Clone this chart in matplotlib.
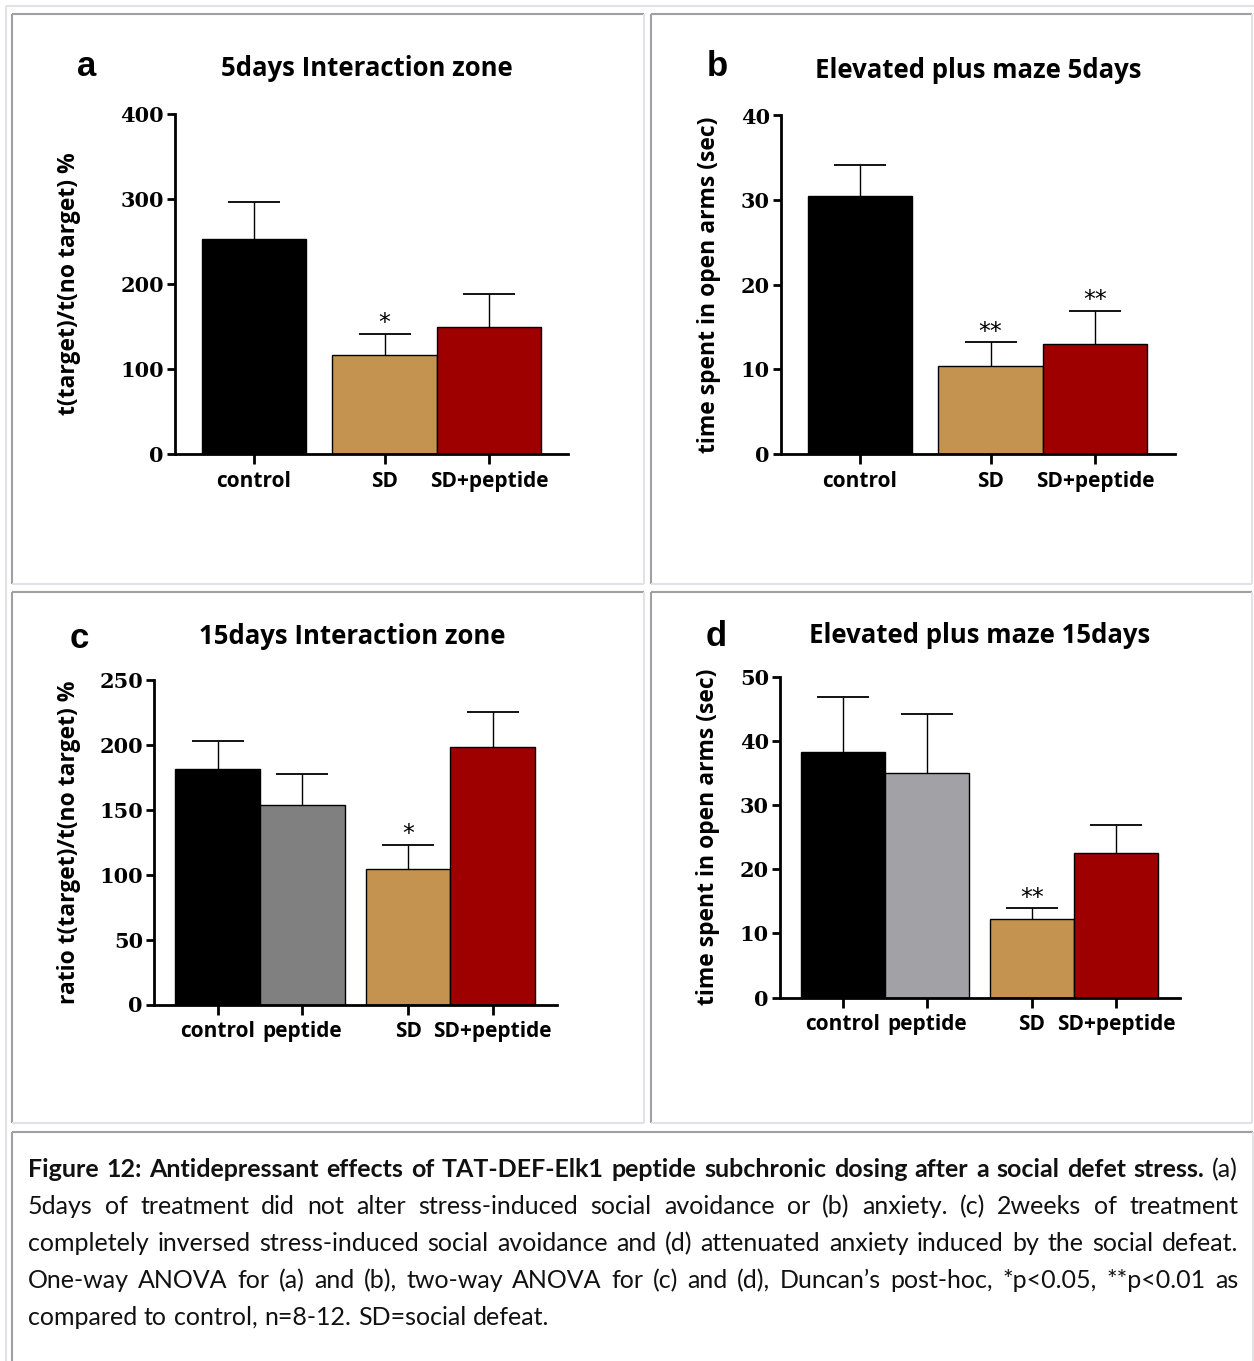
import matplotlib
matplotlib.use('Agg')
import matplotlib.pyplot as plt
from matplotlib.lines import Line2D

W, H = 1254, 1361

# values (mean, upper SEM)
a_groups = ['control', 'SD', 'SD+peptide']
a_mean = [253, 116, 149.5]
a_sem = [43, 25, 39]
a_sig = ['', '*', '']

b_groups = ['control', 'SD', 'SD+peptide']
b_mean = [30.5, 10.4, 13.0]
b_sem = [3.7, 2.8, 3.9]
b_sig = ['', '**', '**']

c_groups = ['control', 'peptide', 'SD', 'SD+peptide']
c_mean = [181, 153.5, 104, 198]
c_sem = [21.4, 23.5, 18.7, 26.8]
c_sig = ['', '', '*', '']

d_groups = ['control', 'peptide', 'SD', 'SD+peptide']
d_mean = [38.3, 35.0, 12.2, 22.6]
d_sem = [8.6, 9.2, 1.7, 4.3]
d_sig = ['', '', '**', '']

BLACK = '#000000'
TAN = '#C4934F'
RED = '#9E0000'
GREY_C = '#808080'
GREY_D = '#A2A1A6'

DARK_LINE = '#A09FA4'
LIGHT_LINE = '#E2E1E5'

SANS = 'Open Sans'
CAP_SANS = 'Lato'
SERIF = 'DejaVu Serif'

fig = plt.figure(figsize=(W / 100, H / 100), dpi=100)


def px_rect(l, t, r, b):
    return [l / W, 1 - b / H, (r - l) / W, (b - t) / H]


def fig_line(x0, y0, x1, y1, color):
    fig.add_artist(Line2D([x0 / W, x1 / W], [1 - y0 / H, 1 - y1 / H],
                          transform=fig.transFigure, color=color, lw=1.5,
                          solid_capstyle='butt'))


def cell(l, t, r, b):
    # word-table style cell: dark top/left, light bottom/right
    fig_line(l, t, r, t, DARK_LINE)
    fig_line(l, t, l, b, DARK_LINE)
    fig_line(r, t, r, b, LIGHT_LINE)
    fig_line(l, b, r, b, LIGHT_LINE)


def positions_for(n_first, n_second, gap=0.25):
    pos = list(range(n_first))
    pos += [n_first + gap + i for i in range(n_second)]
    return pos


def bar_panel(rect, groups, means, sems, sigs, colors, split, xlim, ymax, ystep,
              ylabel, title, letter, title_xy, letter_xy, ylabel_x):
    ax = fig.add_axes(px_rect(*rect))
    pos = positions_for(split, len(groups) - split)
    ax.bar(pos, means, width=1.0, color=colors, edgecolor='black', linewidth=1.0, zorder=2)
    # symmetric bars drawn behind the columns, so only the upper half shows
    ax.errorbar(pos, means, yerr=sems, fmt='none', ecolor='black',
                elinewidth=1.0, capsize=19, capthick=1.3, zorder=1)
    for x, m, s, sig in zip(pos, means, sems, sigs):
        if sig:
            ax.annotate(sig, (x, m + s), xytext=(0, -1), textcoords='offset points',
                        ha='center', va='bottom', fontsize=17, family='DejaVu Sans')

    ax.set_xlim(*xlim)
    ax.set_ylim(0, ymax)
    ax.set_yticks(range(0, ymax + 1, ystep))
    ax.set_xticks(pos, groups)
    for sp in ['top', 'right']:
        ax.spines[sp].set_visible(False)
    for sp in ['left', 'bottom']:
        ax.spines[sp].set_linewidth(2.0)
    ax.tick_params(axis='y', direction='out', length=6, width=2.0, pad=2)
    ax.tick_params(axis='x', direction='out', length=7, width=2.0, pad=5)
    for lab in ax.get_yticklabels():
        lab.set_family(SERIF)
        lab.set_weight('bold')
        lab.set_fontsize(15)
    for lab in ax.get_xticklabels():
        lab.set_family(SANS)
        lab.set_weight('bold')
        lab.set_fontsize(15)

    ax.set_ylabel(ylabel, family=SANS, weight='bold', fontsize=16.5)
    l, t, r, b = rect
    ax.yaxis.label.set_va('center')
    ax.yaxis.set_label_coords((ylabel_x - l) / (r - l), 0.5)

    fig.text(title_xy[0] / W, 1 - title_xy[1] / H, title, ha='center', va='center',
             family=SANS, weight='bold', fontsize=18.5)
    fig.text(letter_xy[0] / W, 1 - letter_xy[1] / H, letter, ha='center', va='center',
             family='Liberation Sans', weight='bold', fontsize=25)
    return ax


# table cells
fig_line(6, 6, 1254, 6, LIGHT_LINE)
fig_line(6, 6, 6, 1361, LIGHT_LINE)
cell(12, 14, 644, 584)
cell(651, 14, 1252, 584)
cell(12, 592, 644, 1123)
cell(651, 592, 1252, 1123)
cell(12, 1132, 1253, 1366)

bar_panel((175, 113.6, 568, 454.1), a_groups, a_mean, a_sem, a_sig,
          [BLACK, TAN, RED], 1, (-0.756, 3.005), 400, 100,
          't(target)/t(no target) %', '5days Interaction zone', 'a',
          (367, 69), (87, 66), 69)

bar_panel((781, 115.5, 1174.5, 454.1), b_groups, b_mean, b_sem, b_sig,
          [BLACK, TAN, RED], 1, (-0.756, 3.01), 40, 10,
          'time spent in open arms (sec)', 'Elevated plus maze 5days', 'b',
          (978, 70), (717, 66), 709)

bar_panel((154, 679.5, 557, 1004.5), c_groups, c_mean, c_sem, c_sig,
          [BLACK, GREY_C, TAN, RED], 2, (-0.754, 4.01), 250, 50,
          'ratio t(target)/t(no target) %', '15days Interaction zone', 'c',
          (352, 637), (79, 638), 69)

bar_panel((780, 677, 1180, 997.6), d_groups, d_mean, d_sem, d_sig,
          [BLACK, GREY_D, TAN, RED], 2, (-0.746, 4.01), 50, 10,
          'time spent in open arms (sec)', 'Elevated plus maze 15days', 'd',
          (980, 635), (716, 637), 708)

# caption, justified by hand
CAP_FS = 18
cap_lines = [
    [('Figure 12: Antidepressant effects of TAT-DEF-Elk1 peptide subchronic dosing after a social defet stress.', 'bold'),
     ('(a)', 'normal')],
    [('5days of treatment did not alter stress-induced social avoidance or (b) anxiety. (c) 2weeks of treatment', 'normal')],
    [('completely inversed stress-induced social avoidance and (d) attenuated anxiety induced by the social defeat.', 'normal')],
    [('One-way ANOVA for (a) and (b), two-way ANOVA for (c) and (d), Duncan\u2019s post-hoc, *p<0.05, **p<0.01 as', 'normal')],
    [('compared to control, n=8-12. SD=social defeat.', 'normal')],
]
cap_base = [1177, 1214, 1251, 1288, 1325]
x_left, x_right = 28, 1238

renderer = fig.canvas.get_renderer()
for i, (segs, base) in enumerate(zip(cap_lines, cap_base)):
    words = [(w, wt) for txt, wt in segs for w in txt.split()]
    arts = [fig.text(0, 1 - base / H, w, fontsize=CAP_FS, family=CAP_SANS, weight=wt,
                     va='baseline', color='#111111') for w, wt in words]
    widths = [t.get_window_extent(renderer).width for t in arts]
    if i < len(cap_lines) - 1:
        gap = (x_right - x_left - sum(widths)) / (len(words) - 1)
    else:
        gap = CAP_FS * 100 / 72 * 0.27
    x = x_left
    for t, w in zip(arts, widths):
        t.set_x(x / W)
        x += w + gap

fig.savefig('out.png', dpi=100, facecolor='white')
